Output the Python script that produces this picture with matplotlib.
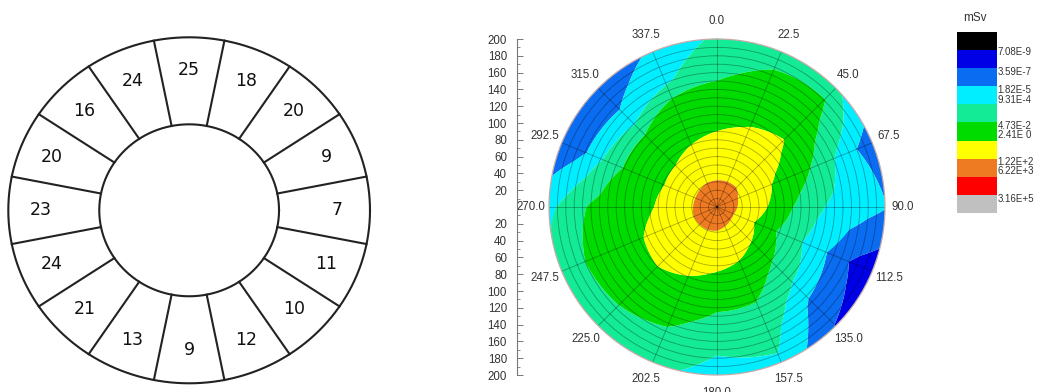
import numpy as np
import matplotlib
matplotlib.use("Agg")
import matplotlib.pyplot as plt
from matplotlib.colors import ListedColormap

plt.rcParams['font.family'] = ['Liberation Sans', 'DejaVu Sans']

# ---------------- data: left sector diagram ----------------
sector_angles = [0, 22.5, 45, 67.5, 90, 112.5, 135, 157.5,
                 180, 202.5, 225, 247.5, 270, 292.5, 315, 337.5]
sector_values = [25, 18, 20, 9, 7, 11, 10, 12, 9, 13, 21, 24, 23, 20, 16, 24]

# ---------------- data: polar dose map (log10 mSv) ----------------
dir_angles = [0, 22.5, 45, 67.5, 90, 112.5, 135, 157.5,
              180, 202.5, 225, 247.5, 270, 292.5, 315, 337.5]
radii = [0, 20, 40, 60, 80, 100, 120, 140, 160, 180, 200]
log_dose = [
    [3.3, 2.49, 1.80, 1.23, 0.67, 0.10, -0.47, -1.04, -1.60, -2.15, -2.70],   # 0
    [3.3, 2.49, 1.85, 1.39, 0.92, 0.45, 0.03, -0.42, -0.90, -1.40, -2.05],    # 22.5
    [3.3, 2.46, 1.87, 1.46, 1.06, 0.66, 0.24, -0.25, -0.74, -1.23, -2.60],    # 45
    [3.3, 2.37, 1.54, 0.77, 0.04, -0.64, -1.33, -2.39, -3.52, -4.74, -5.60],  # 67.5
    [3.3, 2.29, 1.33, 0.38, -0.76, -1.81, -2.79, -3.35, -3.79, -4.22, -4.63], # 90
    [3.3, 2.20, 0.86, -0.38, -1.53, -2.53, -3.56, -4.63, -6.02, -6.88, -7.50],# 112.5
    [3.3, 2.20, 1.23, 0.28, -0.72, -1.68, -2.58, -3.89, -5.10, -5.80, -6.52], # 135
    [3.3, 2.29, 1.47, 0.69, 0.00, -0.63, -1.26, -1.78, -2.28, -2.78, -3.38],  # 157.5
    [3.3, 2.40, 1.64, 0.96, 0.28, -0.44, -1.15, -1.83, -2.50, -3.13, -3.63],  # 180
    [3.3, 2.40, 1.72, 1.17, 0.61, 0.08, -0.43, -0.94, -1.47, -2.03, -2.59],   # 202.5
    [3.3, 2.37, 1.76, 1.30, 0.84, 0.38, -0.14, -0.67, -1.19, -1.70, -2.20],   # 225
    [3.3, 2.40, 1.76, 1.25, 0.74, 0.25, -0.19, -0.62, -1.06, -1.60, -2.30],   # 247.5
    [3.3, 2.43, 1.62, 0.85, 0.22, -0.17, -0.57, -0.97, -1.43, -2.50, -3.43],  # 270
    [3.3, 2.43, 1.55, 0.65, -0.04, -0.63, -1.24, -2.32, -4.27, -5.42, -6.22], # 292.5
    [3.3, 2.46, 1.61, 0.73, 0.02, -0.59, -1.20, -3.17, -4.60, -5.33, -6.00],  # 315
    [3.3, 2.49, 1.75, 1.06, 0.38, -0.19, -0.76, -1.33, -3.27, -3.87, -4.47],  # 337.5
]
level_bounds = [7.08e-9, 3.59e-7, 1.82e-5, 9.31e-4, 4.73e-2, 2.41e0, 1.22e2, 6.22e3, 3.16e5]
level_labels = ['7.08E-9', '3.59E-7', '1.82E-5', '9.31E-4', '4.73E-2',
                '2.41E 0', '1.22E+2', '6.22E+3', '3.16E+5']
band_colors = ['#000000', '#0000e6', '#0a6cf0', '#00eeff', '#14eb96',
               '#00dc00', '#ffff00', '#ee7a22', '#ff0000', '#c0c0c0']
theta_labels = [f'{a:.1f}' for a in dir_angles]
r_ticks = [20, 40, 60, 80, 100, 120, 140, 160, 180, 200]

# ---------------- figure ----------------
W, H = 1044, 392
fig = plt.figure(figsize=(W / 100, H / 100), dpi=100)
fig.patch.set_facecolor('white')

# ----- left sector diagram -----
axL = fig.add_axes([8.3 / W, (H - 383.3) / H, 361.7 / W, 346 / H])
axL.set_xlim(-1, 1)
axL.set_ylim(-1, 1)
axL.axis('off')
r_in = 0.497
line_c = '#222222'
t = np.linspace(0, 2 * np.pi, 721)
axL.plot(np.cos(t), np.sin(t), color=line_c, lw=1.5, clip_on=False)
axL.plot(r_in * np.cos(t), r_in * np.sin(t), color=line_c, lw=1.5, clip_on=False)
step = 360 / len(sector_angles)
for a in sector_angles:
    b = np.deg2rad(a + step / 2)
    axL.plot([r_in * np.sin(b), np.sin(b)], [r_in * np.cos(b), np.cos(b)],
             color=line_c, lw=1.5, clip_on=False)
for a, v in zip(sector_angles, sector_values):
    c = np.deg2rad(a)
    axL.text(0.82 * np.sin(c), 0.81 * np.cos(c), str(v), ha='center', va='center',
             fontsize=12.5, family='DejaVu Sans', color='#111111')

# ----- polar dose map -----
R0 = 168
cx, cy = 717, 207
ax = fig.add_axes([(cx - R0) / W, (H - cy - R0) / H, 2 * R0 / W, 2 * R0 / H],
                  projection='polar')
ax.set_theta_zero_location('N')
ax.set_theta_direction(-1)

th = np.deg2rad(np.array(dir_angles + [360.0]))
Z = np.array(log_dose + [log_dose[0]])
T, Rg = np.meshgrid(th, np.array(radii, dtype=float), indexing='ij')
levels = [-30.0] + list(np.log10(level_bounds)) + [30.0]
cs = ax.contourf(T, Rg, Z, levels=levels, colors=band_colors, antialiased=True)
for p in cs.get_paths():
    try:
        p._interpolation_steps = 40
    except Exception:
        pass
ax.set_rlim(0, 200)
ax.set_yticks(np.arange(10, 200, 10))
ax.set_yticklabels([])
ax.set_xticks(np.deg2rad(dir_angles))
ax.set_xticklabels(theta_labels)
ax.tick_params(axis='x', pad=2.5, labelsize=8.3, labelcolor='#333333')
ax.grid(True, color='black', alpha=0.33, lw=0.6)
ax.spines['polar'].set_color('#c4a9a9')
ax.spines['polar'].set_linewidth(0.9)

# ----- radial scale on the left -----
axR = fig.add_axes([516.7 / W, (H - cy - R0) / H, 0.01, 2 * R0 / H])
axR.set_ylim(-200, 200)
axR.patch.set_visible(False)
for s in ['top', 'right', 'bottom']:
    axR.spines[s].set_visible(False)
axR.spines['left'].set_color('#777777')
axR.spines['left'].set_linewidth(0.8)
axR.set_xticks([])
yt = [-v for v in r_ticks[::-1]] + r_ticks
axR.set_yticks(yt)
axR.set_yticklabels([str(abs(v)) for v in yt])
axR.set_yticks(np.arange(-190, 200, 20), minor=True)
axR.tick_params(axis='y', which='major', direction='in', length=4, width=0.7,
                color='#777777', pad=7, labelsize=8.3, labelcolor='#333333')
axR.tick_params(axis='y', which='minor', direction='in', length=2, width=0.6,
                color='#777777')

# ----- legend colour bar -----
top, bot = 32.3, 213.3
axC = fig.add_axes([956.7 / W, (H - bot) / H, 39.3 / W, (bot - top) / H])
axC.imshow(np.arange(len(band_colors))[:, None], cmap=ListedColormap(band_colors),
           aspect='auto', interpolation='nearest')
axC.axis('off')
label_pos = [1.07, 2.18, 3.19, 3.72, 5.16, 5.70, 7.15, 7.64, 9.23]
for lab, pos in zip(level_labels, label_pos):
    axC.text(1.04, 1 - pos / len(band_colors), lab, transform=axC.transAxes,
             ha='left', va='center', fontsize=7.0, color='#333333')
fig.text(975 / W, 1 - 18 / H, 'mSv', ha='center', va='center', fontsize=8.5,
         color='#333333')

fig.savefig('out.png', dpi=100)
